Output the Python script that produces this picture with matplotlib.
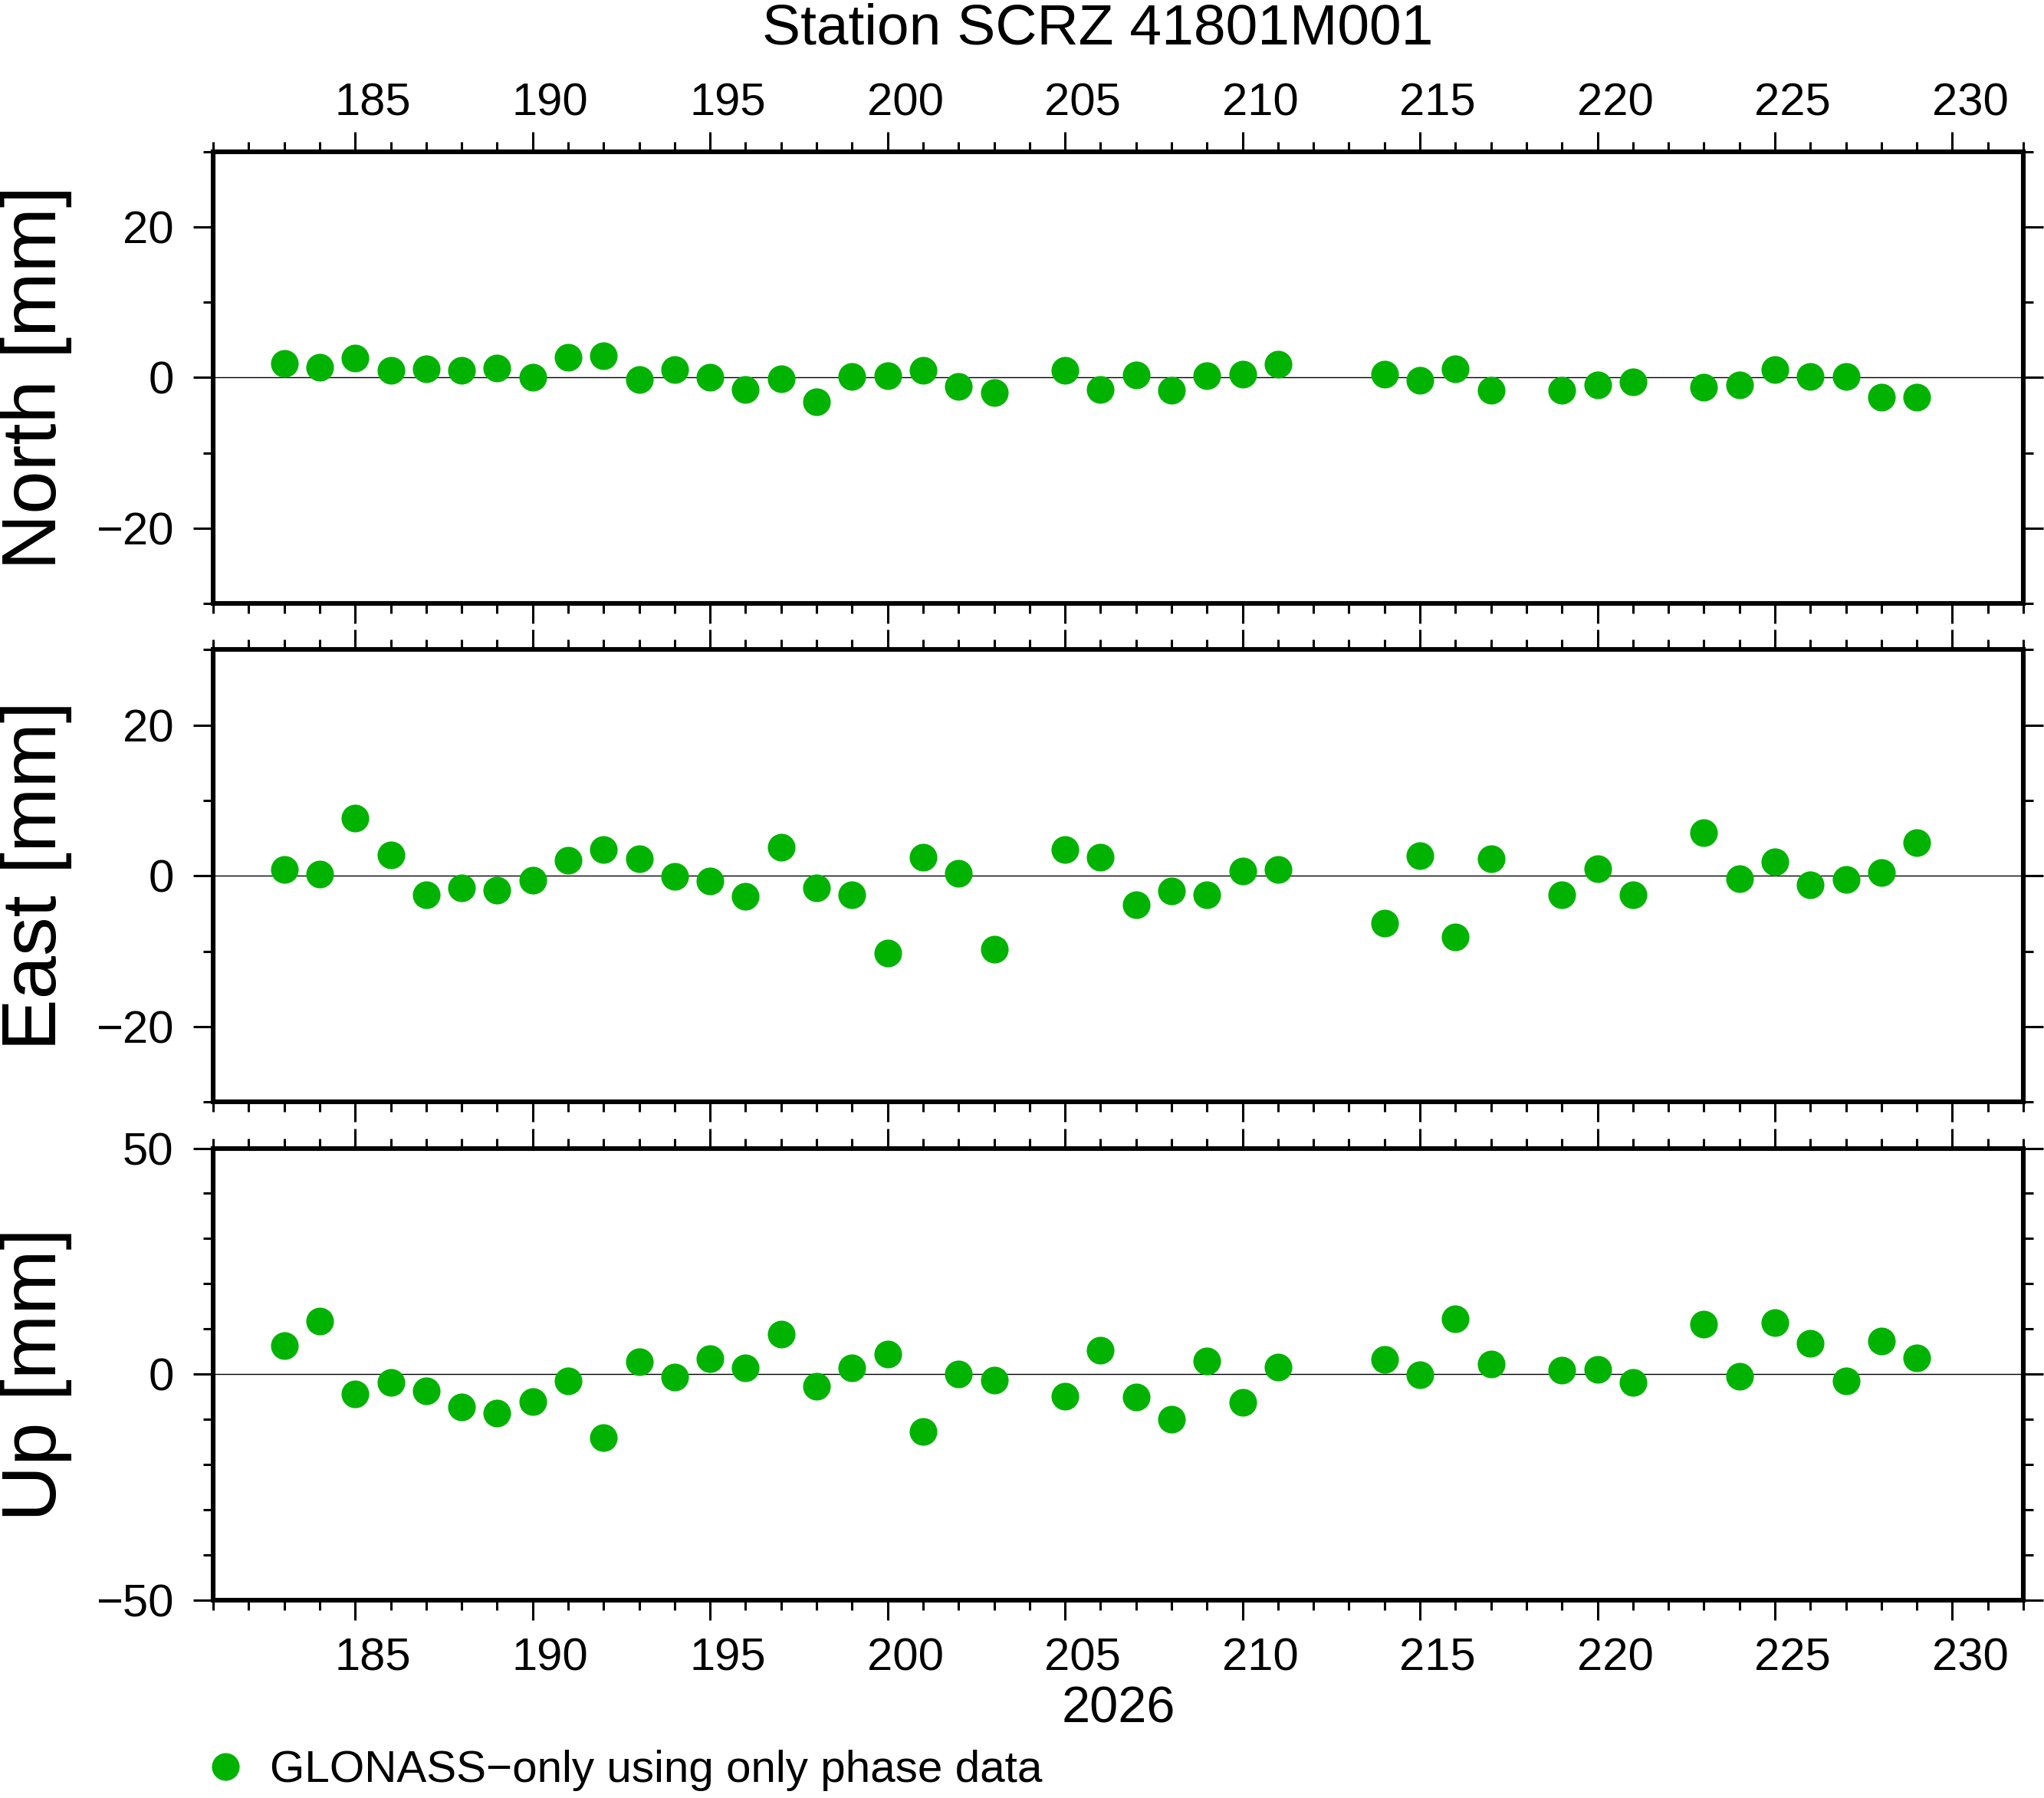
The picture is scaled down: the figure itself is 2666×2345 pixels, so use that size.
import matplotlib
matplotlib.use('Agg')
import matplotlib.pyplot as plt
from matplotlib.ticker import MultipleLocator
from matplotlib.transforms import ScaledTranslation

plt.rcParams['font.family'] = ['Liberation Sans', 'DejaVu Sans']

# day of year 2026
days = [183, 184, 185, 186, 187, 188, 189, 190, 191, 192, 193, 194, 195, 196,
        197, 198, 199, 200, 201, 202, 203, 205, 206, 207, 208, 209, 210, 211,
        214, 215, 216, 217, 219, 220, 221, 223, 224, 225, 226, 227, 228, 229]

north = [1.9, 1.4, 2.6, 1.0, 1.2, 1.0, 1.3, 0.0, 2.7, 2.9, -0.3, 1.1, 0.0, -1.6,
         -0.2, -3.2, 0.1, 0.3, 1.0, -1.2, -2.0, 1.0, -1.6, 0.4, -1.7, 0.2, 0.5, 1.8,
         0.5, -0.4, 1.2, -1.7, -1.7, -1.0, -0.6, -1.3, -1.0, 1.1, 0.1, 0.1, -2.6, -2.6]

east = [0.8, 0.2, 7.7, 2.8, -2.5, -1.65, -1.9, -0.6, 2.1, 3.5, 2.3, -0.1, -0.7, -2.7,
        3.8, -1.6, -2.5, -10.3, 2.5, 0.3, -9.7, 3.5, 2.5, -3.8, -2.05, -2.5, 0.6, 0.85,
        -6.3, 2.7, -8.1, 2.25, -2.5, 0.9, -2.5, 5.7, -0.4, 1.85, -1.2, -0.5, 0.4, 4.4]

up = [6.4, 11.7, -4.4, -1.8, -3.6, -7.2, -8.6, -6.0, -1.5, -14.1, 2.7, -0.7, 3.4, 1.4,
      8.8, -2.7, 1.4, 4.4, -12.7, 0.1, -1.3, -4.9, 5.3, -5.1, -10.0, 2.9, -6.2, 1.5,
      3.2, -0.2, 12.2, 2.2, 0.9, 1.1, -1.9, 11.1, -0.5, 11.4, 6.9, -1.5, 7.3, 3.6]

title = 'Station SCRZ 41801M001'
year_label = '2026'
legend_label = 'GLONASS\u2212only using only phase data'
green = '#00b300'

fig = plt.figure(figsize=(13.33, 11.725), dpi=200)

left, width, height = 0.1043, 0.8856, 0.2514
bottoms = [0.6643, 0.3872, 0.1100]
panels = [
    ('North [mm]', north, 30, 20),
    ('East [mm]', east, 30, 20),
    ('Up [mm]', up, 50, 50),
]

axes = []
for (label, values, lim, major), b in zip(panels, bottoms):
    ax = fig.add_axes([left, b, width, height])
    ax.axhline(0, color='k', lw=0.5, zorder=1)
    line, = ax.plot(days, values, 'o', color=green, markersize=13,
                    markeredgewidth=0, zorder=2)
    ax.set_xlim(181, 232)
    ax.set_ylim(-lim, lim)
    ax.xaxis.set_major_locator(MultipleLocator(5))
    ax.xaxis.set_minor_locator(MultipleLocator(1))
    ax.yaxis.set_major_locator(MultipleLocator(major))
    ax.yaxis.set_minor_locator(MultipleLocator(10))
    for s in ax.spines.values():
        s.set_linewidth(2.2)
    ax.tick_params(which='both', direction='out', top=True, right=True,
                   bottom=True, left=True, width=1.1, labelsize=21.5,
                   labelbottom=False, labeltop=False, labelright=False)
    ax.tick_params(which='major', length=9.5)
    ax.tick_params(which='minor', length=4.8)
    ax.tick_params(axis='y', pad=9)
    ax.set_ylabel(label, fontsize=36.5)
    ax.yaxis.set_label_coords(-0.078, 0.5)
    axes.append(ax)

axes[0].tick_params(axis='x', labeltop=True, pad=3)
axes[2].tick_params(axis='x', labelbottom=True, pad=8)
axes[2].set_xlabel(year_label, fontsize=24, labelpad=3)

# day labels sit in the middle of the day interval (GMT style)
half_day = ScaledTranslation(23 / 200, 0, fig.dpi_scale_trans)
for ax in (axes[0], axes[2]):
    for lab in ax.get_xticklabels():
        lab.set_transform(lab.get_transform() + half_day)

fig.text(0.5371, 0.9753, title, ha='center', va='baseline', fontsize=27)

fig.legend([line], [legend_label], loc='center left',
           bbox_to_anchor=(265 / 2666, 1 - 2309 / 2345), frameon=False,
           borderpad=0, borderaxespad=0, handlelength=1.0, handletextpad=0.5,
           fontsize=21, numpoints=1)

fig.savefig('out.png', dpi=200)
plt.close(fig)
